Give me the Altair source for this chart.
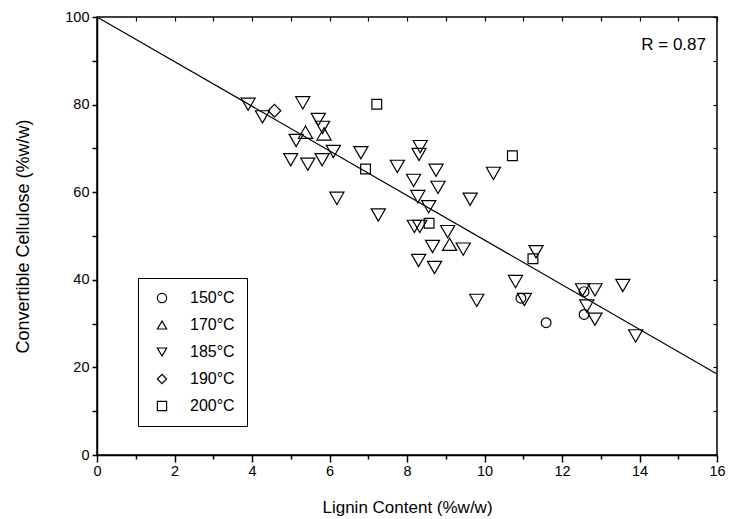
import altair as alt
import pandas as pd

# ---- data ----
temps = ["150°C", "170°C", "185°C", "190°C", "200°C"]
shapes = ["circle", "triangle-up", "triangle-down", "diamond", "square"]

x150 = [10.94, 11.59, 12.57, 12.57]
y150 = [35.8, 30.2, 37.3, 32.1]

x170 = [5.38, 5.86, 9.10]
y170 = [73.7, 73.3, 48.1]

x185 = [3.90, 4.27, 5.31, 5.71, 5.82, 5.14, 6.10, 5.00, 5.44, 5.81,
        6.81, 7.75, 8.34, 8.31, 8.75, 8.17, 8.80, 8.28, 8.56, 9.63,
        10.23, 6.19, 7.26, 8.19, 8.33, 9.05, 8.66, 9.45, 8.30, 8.71,
        10.80, 11.33, 9.80, 11.03, 12.53, 12.85, 13.57, 12.64, 12.85, 13.90]
y185 = [80.1, 77.2, 80.4, 76.6, 74.8, 71.8, 69.3, 67.4, 66.4, 67.4,
        69.0, 65.9, 70.4, 68.6, 65.0, 62.7, 61.1, 59.0, 56.7, 58.4,
        64.3, 58.6, 54.8, 52.2, 52.2, 51.0, 47.6, 47.0, 44.4, 42.8,
        39.6, 46.4, 35.3, 35.5, 37.7, 37.7, 38.7, 34.0, 31.0, 27.2]

x190 = [4.58]
y190 = [78.6]

x200 = [7.22, 6.93, 8.57, 10.72, 11.25]
y200 = [80.1, 65.3, 52.9, 68.3, 44.8]

fit_x = [0, 16]
fit_y = [100, 18.5]

r_label = "R = 0.87"

rows = []
for t, xs, ys in zip(temps, [x150, x170, x185, x190, x200], [y150, y170, y185, y190, y200]):
    for a, b in zip(xs, ys):
        rows.append({"lignin": a, "cellulose": b, "temp": t})
df = pd.DataFrame(rows)
small_df = df[df["temp"].isin(["150°C", "200°C"])]
big_df = df[df["temp"].isin(["170°C", "185°C"])]
dia_df = df[df["temp"].isin(["190°C"])]
fit_df = pd.DataFrame({"lignin": fit_x, "cellulose": fit_y})

FONT = "Liberation Sans"
xscale = alt.Scale(domain=[0, 16], nice=False, zero=False)
yscale = alt.Scale(domain=[0, 100], nice=False, zero=False)

x_bottom = alt.Axis(
    orient="bottom", values=list(range(0, 17)),
    labelExpr="datum.value % 2 === 0 ? datum.label : ''",
    tickSize={"condition": {"test": "datum.value % 2 === 0", "value": 7}, "value": 4},
    title="Lignin Content (%w/w)", grid=False, labelFlush=False,
    labelFont=FONT, labelFontSize=14.5, labelColor="black", labelPadding=2,
    titleFont=FONT, titleFontSize=17, titleFontWeight="normal", titleColor="black",
    titlePadding=22, domainColor="black", domainWidth=1.5,
    tickColor="black", tickWidth=1.5,
)
y_left = alt.Axis(
    orient="left", values=list(range(0, 101, 10)),
    labelExpr="datum.value % 20 === 0 ? datum.label : ''",
    tickSize=5, title="Convertible Cellulose (%w/w)", grid=False, labelFlush=False,
    labelFont=FONT, labelFontSize=14.5, labelColor="black", labelPadding=3,
    titleFont=FONT, titleFontSize=18, titleFontWeight="normal", titleColor="black",
    titlePadding=32, domainColor="black", domainWidth=1.5,
    tickColor="black", tickWidth=1.5,
)
x_top = alt.Axis(orient="top", values=list(range(0, 17)), labels=False, title=None,
                 domain=False, grid=False, tickSize=4, offset=-4,
                 tickColor="black", tickWidth=1.2)
y_right = alt.Axis(orient="right", values=list(range(0, 101, 10)), labels=False, title=None,
                   domain=False, grid=False, tickSize=4, offset=-4,
                   tickColor="black", tickWidth=1.2)

legend = alt.Legend(title=None, orient="none", legendX=41, legendY=261,
                    strokeColor="black", padding=12, symbolSize=85, symbolOffset=4,
                    symbolStrokeColor="black", symbolStrokeWidth=1.2,
                    symbolFillColor="white", symbolType="circle",
                    labelFont=FONT, labelFontSize=16, labelColor="black",
                    labelOffset=20, rowPadding=11, fillColor="white")
shape_enc = alt.Shape("temp:N", scale=alt.Scale(domain=temps, range=shapes), legend=legend)


def pts(data, size, axes=False):
    return alt.Chart(data).mark_point(filled=False, color="black", strokeWidth=1.2,
                                      opacity=1, size=size).encode(
        x=alt.X("lignin:Q", scale=xscale, axis=x_bottom if axes else None),
        y=alt.Y("cellulose:Q", scale=yscale, axis=y_left if axes else None),
        shape=shape_enc,
    )


points_small = pts(small_df, 95, axes=True)
points_big = pts(big_df, 200)
points_dia = pts(dia_df, 160)

fit = alt.Chart(fit_df).mark_line(color="black", strokeWidth=1.2).encode(
    x=alt.X("lignin:Q", scale=xscale, axis=x_top),
    y=alt.Y("cellulose:Q", scale=yscale, axis=y_right),
)

rtext = alt.Chart(pd.DataFrame({"t": [r_label]})).mark_text(
    font=FONT, fontSize=17, align="right", baseline="middle", color="black"
).encode(text="t:N", x=alt.value(609), y=alt.value(28))

chart = alt.layer(points_small, fit, points_big, points_dia, rtext).resolve_axis(
    x="independent", y="independent").properties(
    width=620, height=438,
    autosize=alt.AutoSizeParams(type="none"),
    padding={"left": 97, "top": 17, "right": 14, "bottom": 64},
    background="white",
).configure_view(stroke="black", strokeWidth=1.5)

chart.save("out.html", embed_options={"renderer": "svg", "actions": False})
